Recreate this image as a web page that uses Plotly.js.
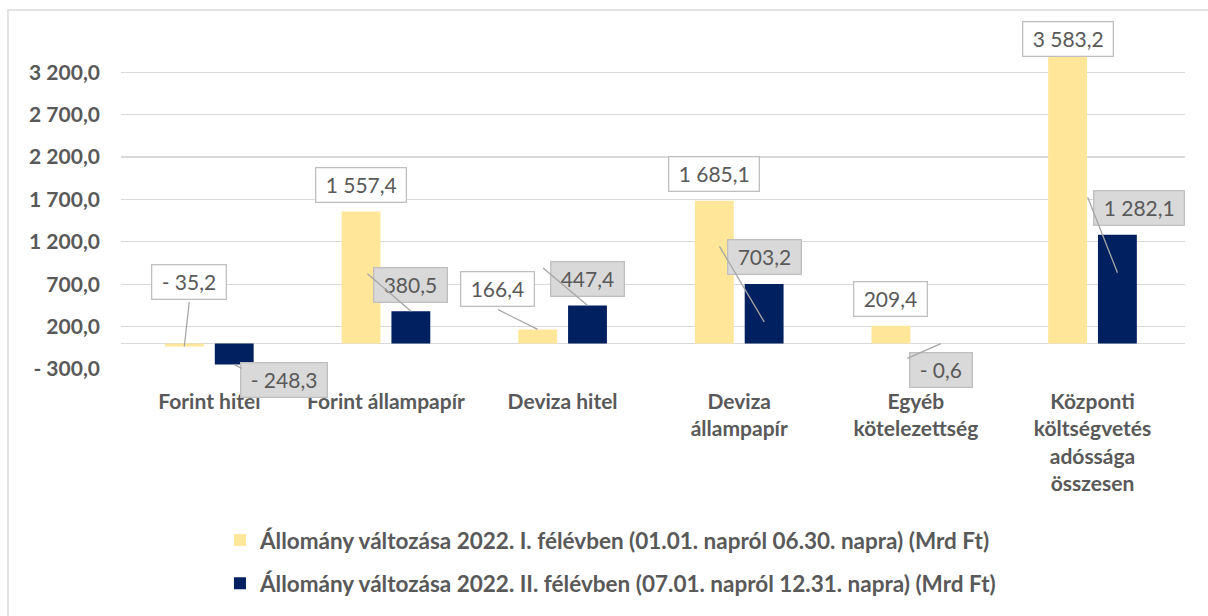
<!DOCTYPE html>
<html>
<head>
<meta charset="utf-8">
<script src="https://cdn.plot.ly/plotly-3.0.1.min.js"></script>
<style>html,body{margin:0;padding:0;background:#fff;}#chart{width:1208px;height:616px;}</style>
</head>
<body>
<div id="chart"></div>
<script>
// ---- data ----
const categories = ["Forint hitel", "Forint állampapír", "Deviza hitel", "Deviza állampapír", "Egyéb kötelezettség", "Központi költségvetés adóssága összesen"];
const categoryLabels = ["Forint hitel", "Forint állampapír", "Deviza hitel", "Deviza<br>állampapír", "Egyéb<br>kötelezettség", "Központi<br>költségvetés<br>adóssága<br>összesen"];
const series1Name = "Állomány változása 2022. I. félévben (01.01. napról 06.30. napra) (Mrd Ft)";
const series2Name = "Állomány változása 2022. II. félévben (07.01. napról 12.31. napra) (Mrd Ft)";
const series1 = [-35.2, 1557.4, 166.4, 1685.1, 209.4, 3583.2];
const series2 = [-248.3, 380.5, 447.4, 703.2, -0.6, 1282.1];
const yTicks = [-300, 200, 700, 1200, 1700, 2200, 2700, 3200];

// ---- styling ----
const TXT = '#595959';
const FONT = 'Lato, "Open Sans", sans-serif';
const FS = 21;
const C1 = '#FFE699', C2 = '#002060';
const BAR_OFF = 25; // px offset of each bar from category centre
// label box offsets [dx, dy] in px from bar end
const labelOff1 = [[5,-64.5],[0,-26.5],[-40,-40],[0,-27],[0,-27],[0,-1]];
const labelOff2 = [[50,15.5],[0,-26.5],[0,-27],[0,-27],[0,26.5],[21.5,-26.5]];
// leader lines: [headShiftX, headShiftY, tailDx, tailDy] or null
const leader1 = [[0,0,5,-45], null, [0,0,-40,-20], null, null, null];
const leader2 = [[0,0,8,4],[0,0,-44,-38],[0,0,-45,-38],[0,38,-45,-76],[0,0,-34,15],[0,38,-30,-76]];

function fmt(v){
  const neg = v < 0;
  const s = Math.abs(v).toFixed(1).split('.');
  const int = s[0].replace(/\B(?=(\d{3})+(?!\d))/g, ' ');
  return (neg ? '- ' : '') + int + ',' + s[1];
}

const traces = [
  {type:'bar', name:'<b>' + series1Name + '</b>', x:categories, y:series1, marker:{color:C1}, legendgroup:'a', hoverinfo:'skip'},
  {type:'bar', name:'<b>' + series2Name + '</b>', x:categories, y:series2, marker:{color:C2}, legendgroup:'b', hoverinfo:'skip'}
];

const annotations = [];
const lines = [];
function addLabels(vals, side, offs, leaders, fill){
  vals.forEach((v,i)=>{
    annotations.push({
      x:categories[i], y:v, xref:'x', yref:'y',
      xshift: side*BAR_OFF + offs[i][0], yshift: -offs[i][1],
      text:'\u00a0' + fmt(v) + '\u00a0', showarrow:false,
      font:{family:FONT, size:FS, color:TXT},
      bgcolor:fill, bordercolor:'#BFBFBF', borderwidth:1.3, borderpad:4
    });
    const L = leaders[i];
    if(L){
      lines.push({
        x:categories[i], y:v, xref:'x', yref:'y',
        xshift: side*BAR_OFF + L[0], yshift: -L[1],
        text:'', showarrow:true, arrowhead:0, arrowwidth:1.3, arrowcolor:'#A6A6A6',
        ax:L[2], ay:L[3], standoff:0, startstandoff:0,
        font:{size:1}, borderpad:0
      });
    }
  });
}
addLabels(series1, -1, labelOff1, leader1, '#FFFFFF');
addLabels(series2, 1, labelOff2, leader2, '#D9D9D9');

const layout = {
  width:1208, height:616,
  margin:{l:121, r:23, t:34, b:246},
  paper_bgcolor:'#FFFFFF', plot_bgcolor:'#FFFFFF',
  font:{family:FONT, color:TXT},
  barmode:'group', bargap:0.436, bargroupgap:0.22,
  showlegend:true,
  legend:{orientation:'v', x:0.093, xanchor:'left', y:-0.443, yanchor:'top',
    font:{family:FONT, size:22.5, color:TXT, weight:'bold'}, tracegroupgap:11, traceorder:'grouped', bgcolor:'rgba(0,0,0,0)'},
  xaxis:{type:'category', tickvals:categories, ticktext:categoryLabels, ticks:'', showgrid:false, showline:false, zeroline:false,
    tickfont:{family:FONT, size:FS, color:TXT, weight:'bold'}, ticklabelstandoff:18},
  yaxis:{range:[-300,3650], tickmode:'array', tickvals:yTicks, ticktext:yTicks.map(fmt), ticks:'',
    showgrid:true, gridcolor:'#D9D9D9', gridwidth:1.3, zeroline:true, zerolinecolor:'#D9D9D9', zerolinewidth:1.3,
    showline:false, tickfont:{family:FONT, size:FS, color:TXT, weight:'bold'}, ticklabelstandoff:20},
  shapes:[{type:'rect', xref:'paper', yref:'paper', x0:(8-121)/1064, x1:1.2, y0:(370-10)/336, y1:-1.2,
    line:{color:'#D9D9D9', width:1.5}, layer:'below'}],
  annotations: annotations.concat(lines)
};

Plotly.newPlot('chart', traces, layout, {staticPlot:true, displayModeBar:false});
</script>
</body>
</html>
